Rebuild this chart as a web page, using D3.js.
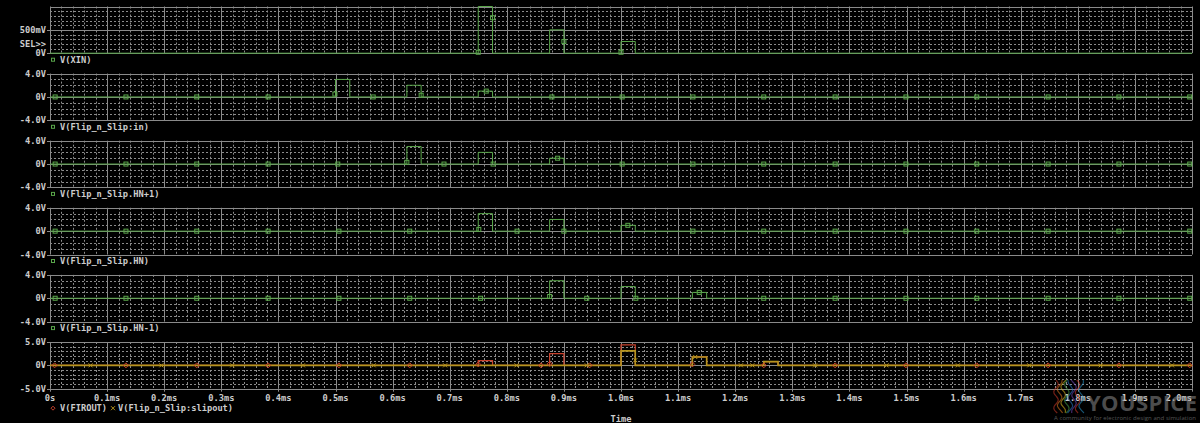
<!DOCTYPE html>
<html><head><meta charset="utf-8">
<script src="https://cdn.jsdelivr.net/npm/d3@7"></script>
<style>body{margin:0;background:#000;} svg{display:block}</style>
</head><body>
<svg id="c" width="1200" height="423"></svg>
<script>
// ---------- data ----------
const timeTicks = [0,0.1,0.2,0.3,0.4,0.5,0.6,0.7,0.8,0.9,1.0,1.1,1.2,1.3,1.4,1.5,1.6,1.7,1.8,1.9,2.0];
const timeTickLabels = ["0s","0.1ms","0.2ms","0.3ms","0.4ms","0.5ms","0.6ms","0.7ms","0.8ms","0.9ms","1.0ms","1.1ms","1.2ms","1.3ms","1.4ms","1.5ms","1.6ms","1.7ms","1.8ms","1.9ms","2.0ms"];
const pulseStarts = [0.5, 0.625, 0.75, 0.875, 1.0, 1.125, 1.25]; // ms
const pulseWidth = 0.025; // ms
const xinValues     = [0, 0, 1.0, 0.5, 0.25, 0, 0];
const inValues      = [3, 2, 1, 0, 0, 0, 0];
const hnPlus1Values = [0, 3, 2, 1, 0, 0, 0];
const hnValues      = [0, 0, 3, 2, 1, 0, 0];
const hnMinus1Values= [0, 0, 0, 3, 2, 1, 0];
const firoutValues  = [0, 0, 1.0, 2.5, 4.4, 1.8, 0.8];
const slipoutValues = [0, 0, 0, 0, 3.1, 1.8, 0.8];

const panelLegends = ["V(XIN)", "V(Flip_n_Slip:in)", "V(Flip_n_Slip.HN+1)", "V(Flip_n_Slip.HN)", "V(Flip_n_Slip.HN-1)"];
const bottomLegend = ["V(FIROUT)", "V(Flip_n_Slip:slipout)"];
const panelDomains = [[0,1],[-4,4],[-4,4],[-4,4],[-4,4],[-5,5]];
const panelTickValues = [[0.5,0],[4,0,-4],[4,0,-4],[4,0,-4],[4,0,-4],[5,0,-5]];
const panelTickLabels = [["500mV","0V"],["4.0V","0V","-4.0V"],["4.0V","0V","-4.0V"],["4.0V","0V","-4.0V"],["4.0V","0V","-4.0V"],["5.0V","0V","-5.0V"]];
const panelMinorStep = [0.1, 1, 1, 1, 1, 1];

// marker points [time ms, value]
const xinMarkers = [[0.75,0.02],[0.775,0.76],[0.9,0.25],[1.0,0.02]];
const inMarkers = [[0.009,0],[0.133,0],[0.257,0],[0.382,0],[0.499,0.5],[0.566,0],[0.650,0.3],[0.764,1],[0.879,0],[1.002,0],[1.126,0],[1.250,0],[1.375,0],[1.499,0],[1.623,0],[1.748,0],[1.872,0],[1.996,0]];
const hnPlus1Markers = [[0.009,0],[0.133,0],[0.257,0],[0.382,0],[0.504,0],[0.625,0.3],[0.690,0],[0.776,0],[0.889,1],[1.002,0],[1.126,0],[1.250,0],[1.375,0],[1.499,0],[1.623,0],[1.748,0],[1.872,0],[1.996,0]];
const hnMarkers = [[0.009,0],[0.133,0],[0.257,0],[0.382,0],[0.506,0],[0.630,0],[0.751,0.3],[0.818,0],[0.900,0],[1.012,1],[1.126,0],[1.250,0],[1.375,0],[1.499,0],[1.623,0],[1.748,0],[1.872,0],[1.996,0]];
const hnMinus1Markers = [[0.009,0],[0.133,0],[0.257,0],[0.382,0],[0.506,0],[0.630,0],[0.754,0],[0.875,0.3],[0.940,0],[1.026,0],[1.137,1],[1.250,0],[1.375,0],[1.499,0],[1.623,0],[1.748,0],[1.872,0],[1.996,0]];
const firoutMarkers = [[0.008,0],[0.133,0],[0.257,0],[0.382,0],[0.506,0],[0.630,0],[0.750,0.2],[0.860,0],[0.875,0.3],[0.945,0],[1.125,0.2],[1.250,0],[1.375,0],[1.499,0],[1.623,0],[1.748,0],[1.872,0],[1.996,0]];
const slipoutMarkers = [[0.071,0],[0.195,0],[0.319,0],[0.443,0],[0.567,0],[0.692,0],[0.817,0],[0.940,0],[1.025,1.1],[1.130,1.8],[1.210,0],[1.230,0],[1.340,0],[1.465,0],[1.590,0],[1.715,0],[1.840,0],[1.965,0]];

// ---------- layout ----------
const svg = d3.select("#c");
const W = 1200, H = 423;
const left = 50, right = 1192;
const panelTop0 = 6.5, panelStep = 67.1, panelH = 46.7;
const bg = "#000000", gridCol = "#8a8a8a", textCol = "#cdcdcd";
const green = "#59a64a", red = "#c8412c", gold = "#b5941f";
const font = "'DejaVu Sans Mono', 'Liberation Mono', monospace";
const fs = 8.7;

svg.append("rect").attr("width", W).attr("height", H).attr("fill", bg);

const x = d3.scaleLinear().domain([0, 2.0]).range([left, right]);

function pulsePoints(vals) {
  const pts = [[0, 0]];
  pulseStarts.forEach((t0, i) => {
    const v = vals[i];
    if (v !== 0) {
      pts.push([t0, 0], [t0, v], [t0 + pulseWidth, v], [t0 + pulseWidth, 0]);
    }
  });
  pts.push([2.0, 0]);
  return pts;
}

const panels = [
  {series: [{vals: xinValues, color: green, markers: xinMarkers, shape: "square", w: 1}]},
  {series: [{vals: inValues, color: green, markers: inMarkers, shape: "square", w: 1}]},
  {series: [{vals: hnPlus1Values, color: green, markers: hnPlus1Markers, shape: "square", w: 1}]},
  {series: [{vals: hnValues, color: green, markers: hnMarkers, shape: "square", w: 1}]},
  {series: [{vals: hnMinus1Values, color: green, markers: hnMinus1Markers, shape: "square", w: 1}]},
  {series: [{vals: firoutValues, color: red, markers: firoutMarkers, shape: "diamond", w: 1.2},
            {vals: slipoutValues, color: gold, markers: slipoutMarkers, shape: "cross", w: 1.6}]}
];

function txt(g) {
  return g.append("text").attr("fill", textCol)
    .style("font-family", font).style("font-size", fs + "px").style("font-weight", "bold");
}

panels.forEach((p, i) => {
  const top = panelTop0 + i * panelStep;
  const bottom = top + panelH;
  const dom = panelDomains[i];
  const y = d3.scaleLinear().domain(dom).range([bottom, top]);
  const g = svg.append("g");

  // minor vertical grid
  const minorT = d3.range(0, 2.0001, 0.02).filter(t => Math.abs(Math.round(t * 10) - t * 10) > 0.01);
  g.selectAll(null).data(minorT).enter().append("line")
    .attr("x1", d => Math.round(x(d)) + 0.5).attr("x2", d => Math.round(x(d)) + 0.5)
    .attr("y1", top).attr("y2", bottom)
    .attr("stroke", gridCol).attr("stroke-dasharray", "2,2").attr("stroke-width", 1);
  // minor horizontal grid
  const step = panelMinorStep[i];
  const minorV = d3.range(dom[0], dom[1] + step / 2, step).filter(v => !panelTickValues[i].some(tv => Math.abs(tv - v) < 1e-6) && v > dom[0] + 1e-6 && v < dom[1] - 1e-6);
  g.selectAll(null).data(minorV).enter().append("line")
    .attr("x1", left).attr("x2", right)
    .attr("y1", d => Math.round(y(d)) + 0.5).attr("y2", d => Math.round(y(d)) + 0.5)
    .attr("stroke", gridCol).attr("stroke-dasharray", "2,2").attr("stroke-width", 1);
  // major vertical grid
  g.selectAll(null).data(timeTicks).enter().append("line")
    .attr("x1", d => Math.round(x(d)) + 0.5).attr("x2", d => Math.round(x(d)) + 0.5)
    .attr("y1", top).attr("y2", bottom)
    .attr("stroke", gridCol).attr("stroke-width", 1);
  // major horizontal grid
  g.selectAll(null).data(panelTickValues[i]).enter().append("line")
    .attr("x1", left - 3).attr("x2", right)
    .attr("y1", d => Math.round(y(d)) + 0.5).attr("y2", d => Math.round(y(d)) + 0.5)
    .attr("stroke", gridCol).attr("stroke-width", 1);
  // top border
  g.append("line").attr("x1", left).attr("x2", right)
    .attr("y1", Math.round(top) + 0.5).attr("y2", Math.round(top) + 0.5)
    .attr("stroke", gridCol).attr("stroke-width", 1);

  // tick labels
  panelTickValues[i].forEach((d, k) => {
    txt(g).attr("x", left - 4).attr("y", y(d) + 3).attr("text-anchor", "end").text(panelTickLabels[i][k]);
  });
  if (i === 0) {
    txt(g).attr("x", left - 4).attr("y", y(0.2) + 3).attr("text-anchor", "end").text("SEL>>");
  }

  // traces
  const line = d3.line().x(d => x(d[0])).y(d => y(d[1]));
  p.series.forEach(s => {
    g.append("path").datum(pulsePoints(s.vals))
      .attr("d", line).attr("fill", "none")
      .attr("stroke", s.color).attr("stroke-width", s.w);
  });
  p.series.forEach(s => {
    const mg = g.append("g");
    s.markers.forEach(m => {
      const cx = x(m[0]), cy = y(m[1]);
      if (s.shape === "square") {
        mg.append("rect").attr("x", cx - 2).attr("y", cy - 2).attr("width", 4).attr("height", 4)
          .attr("fill", "none").attr("stroke", s.color).attr("stroke-width", 1);
      } else if (s.shape === "diamond") {
        mg.append("path").attr("d", `M${cx},${cy-2.5}L${cx+2.5},${cy}L${cx},${cy+2.5}L${cx-2.5},${cy}Z`)
          .attr("fill", "none").attr("stroke", s.color).attr("stroke-width", 1);
      } else {
        mg.append("path").attr("d", `M${cx-2},${cy-2}L${cx+2},${cy+2}M${cx-2},${cy+2}L${cx+2},${cy-2}`)
          .attr("fill", "none").attr("stroke", s.color).attr("stroke-width", 1);
      }
    });
  });

  // legend below panel (first five)
  if (i < 5) {
    const ly = bottom + 9.5;
    g.append("rect").attr("x", 51.5).attr("y", ly - 4.5).attr("width", 3).attr("height", 3)
      .attr("fill", "none").attr("stroke", green).attr("stroke-width", 1);
    txt(g).attr("x", 60).attr("y", ly).text(panelLegends[i]);
  }

  // x axis on last panel
  if (i === 5) {
    g.selectAll(null).data(timeTicks).enter().append("line")
      .attr("x1", d => Math.round(x(d)) + 0.5).attr("x2", d => Math.round(x(d)) + 0.5)
      .attr("y1", bottom).attr("y2", bottom + 3)
      .attr("stroke", gridCol);
    timeTicks.forEach((d, k) => {
      const last = k === timeTicks.length - 1;
      txt(g).attr("x", last ? right : x(d)).attr("y", bottom + 12)
        .attr("text-anchor", last ? "end" : "middle").text(timeTickLabels[k]);
    });
    const ly = bottom + 22.5;
    const dx = 53, dy = ly - 3;
    g.append("path").attr("d", `M${dx},${dy-2}L${dx+2},${dy}L${dx},${dy+2}L${dx-2},${dy}Z`)
      .attr("fill", "none").attr("stroke", red);
    txt(g).attr("x", 60).attr("y", ly).text(bottomLegend[0]);
    g.append("path").attr("d", `M${111},${dy-2}L${115},${dy+2}M${111},${dy+2}L${115},${dy-2}`)
      .attr("fill", "none").attr("stroke", gold);
    txt(g).attr("x", 118).attr("y", ly).text(bottomLegend[1]);
    txt(g).attr("x", 621).attr("y", bottom + 33).attr("text-anchor", "middle").text("Time");
  }
});

// watermark
const wm = svg.append("g").attr("opacity", 0.55);
const logoColors = ["#d23a2a", "#e07a20", "#e8c020", "#4aa84a", "#2a7ad0", "#7a4ac0", "#d23a2a", "#2a9ad0"];
logoColors.forEach((c, k) => {
  const x0 = 1056 + k * 3.6;
  const pts = d3.range(0, 11).map(j => [x0 + Math.sin(j * 1.3 + k) * 3, 380 + j * 3.3]);
  wm.append("path").attr("d", d3.line().curve(d3.curveBasis)(pts))
    .attr("fill", "none").attr("stroke", c).attr("stroke-width", 1.2);
});
wm.append("text").attr("x", 1087).attr("y", 411).attr("fill", "#8a8a8a")
  .style("font-family", "'Open Sans', 'DejaVu Sans', sans-serif").style("font-size", "22px")
  .style("font-weight", "bold").attr("textLength", 110).text("YOUSPICE");
wm.append("text").attr("x", 1054).attr("y", 420).attr("fill", "#9a9a9a")
  .style("font-family", "'Open Sans', 'DejaVu Sans', sans-serif").style("font-size", "6px")
  .attr("textLength", 142).text("A community for electronic design and simulation");
</script></body></html>
